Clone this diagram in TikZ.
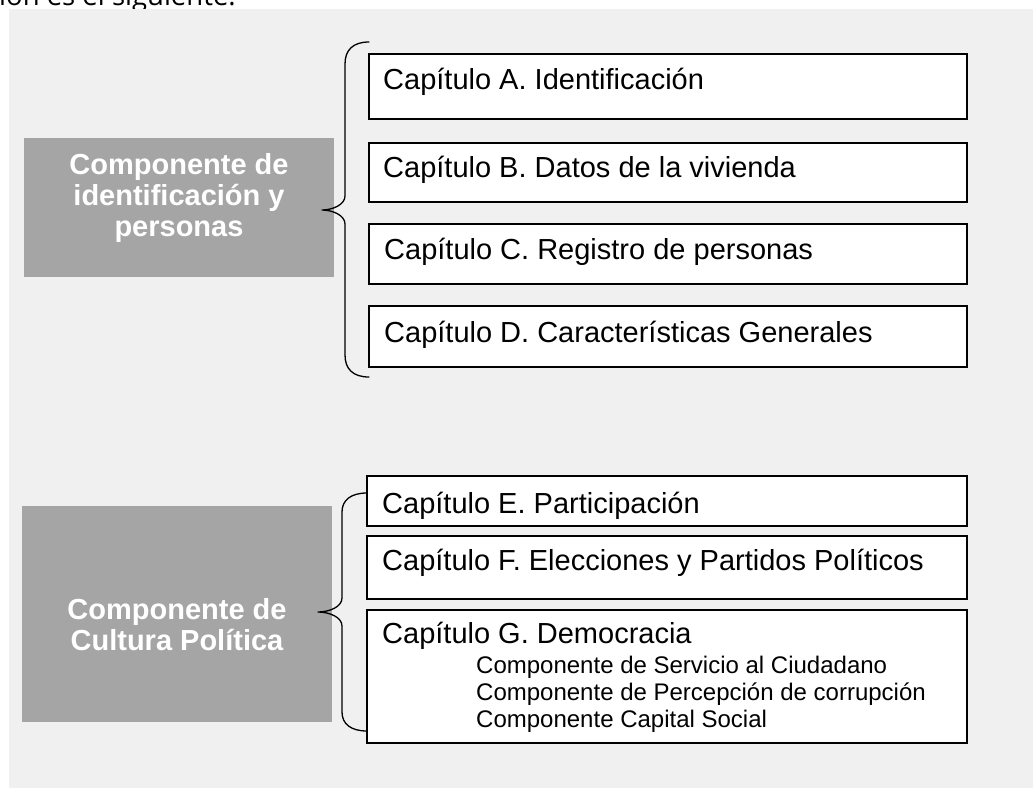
\documentclass[tikz,border=0pt]{standalone}
\usepackage{fontspec}
\setmainfont{Liberation Sans}
\newfontfamily\introfont{Open Sans}
\definecolor{bgfill}{HTML}{F0F0F0}
\definecolor{compgray}{HTML}{A5A5A5}
\begin{document}
\begin{tikzpicture}[x=1pt,y=-1pt,
  chapbox/.style={draw=black, line width=1.4pt, fill=white, anchor=north west, inner sep=0pt, outer sep=0pt},
  compbox/.style={fill=compgray, anchor=north west, inner sep=0pt, outer sep=0pt},
  chaptext/.style={anchor=base west, font=\fontsize{29}{32}\selectfont, inner sep=0pt},
  subtext/.style={anchor=base west, font=\fontsize{24}{27}\selectfont, inner sep=0pt},
  comptext/.style={text=white, font=\bfseries\fontsize{29}{31}\selectfont, align=center, inner sep=0pt},
  bracestyle/.style={draw=black, line width=1.3pt, line cap=round, line join=round}]
\useasboundingbox (0,0) rectangle (1033,788);
% partial intro line, cut by the page edge as in the reference
\node[anchor=base west, font=\introfont\fontsize{27.5}{30}\selectfont, inner sep=0pt] (intro) at (-1,5) {ión es el siguiente.};
% background
\fill[bgfill] (9,9) rectangle (1033,788);

% component boxes
\node[compbox, minimum width=310pt, minimum height=139pt] (comp1) at (24,138) {};
\node[comptext] (comp1text) at (179,198) {Componente de\\identificación y\\personas};
\node[compbox, minimum width=310pt, minimum height=216pt] (comp2) at (22,506) {};
\node[comptext] (comp2text) at (177,625) {Componente de\\Cultura Política};

% chapter boxes, first group
\node[chapbox, minimum width=598pt, minimum height=65pt] (capA) at (369,54) {};
\node[chaptext] (capAtext) at (383,89) {Capítulo A. Identificación};
\node[chapbox, minimum width=598pt, minimum height=59pt] (capB) at (369,143) {};
\node[chaptext] (capBtext) at (383,177) {Capítulo B. Datos de la vivienda};
\node[chapbox, minimum width=598pt, minimum height=60pt] (capC) at (369,224) {};
\node[chaptext] (capCtext) at (384,259) {Capítulo C. Registro de personas};
\node[chapbox, minimum width=598pt, minimum height=61pt] (capD) at (369,306) {};
\node[chaptext] (capDtext) at (384,342) {Capítulo D. Características Generales};

% chapter boxes, second group
\node[chapbox, minimum width=600pt, minimum height=50pt] (capE) at (367,476) {};
\node[chaptext] (capEtext) at (382,513) {Capítulo E. Participación};
\node[chapbox, minimum width=600pt, minimum height=63pt] (capF) at (367,536) {};
\node[chaptext] (capFtext) at (382,570) {Capítulo F. Elecciones y Partidos Políticos};
\node[chapbox, minimum width=600pt, minimum height=133pt] (capG) at (367,610) {};
\node[chaptext] (capGtext) at (382,643) {Capítulo G. Democracia};
\node[subtext] (sub1) at (476,673) {Componente de Servicio al Ciudadano};
\node[subtext] (sub2) at (476,700) {Componente de Percepción de corrupción};
\node[subtext] (sub3) at (476,727) {Componente Capital Social};

% braces
\coordinate (b1top) at (369,42);
\coordinate (b1tip) at (322,210);
\coordinate (b1bot) at (369,377);
\draw[bracestyle] (b1top) .. controls (353,42) and (345,50) .. (345,64)
  -- (345,196) .. controls (345,205) and (332,210) .. (b1tip)
  .. controls (332,210) and (345,215) .. (345,224)
  -- (345,355) .. controls (345,369) and (353,377) .. (b1bot);

\coordinate (b2top) at (367,493);
\coordinate (b2tip) at (318,612);
\coordinate (b2bot) at (367,731);
\draw[bracestyle] (b2top) .. controls (351,493) and (342,500) .. (342,512)
  -- (342,598) .. controls (342,607) and (329,612) .. (b2tip)
  .. controls (329,612) and (342,617) .. (342,626)
  -- (342,712) .. controls (342,724) and (351,731) .. (b2bot);
\end{tikzpicture}
\end{document}
